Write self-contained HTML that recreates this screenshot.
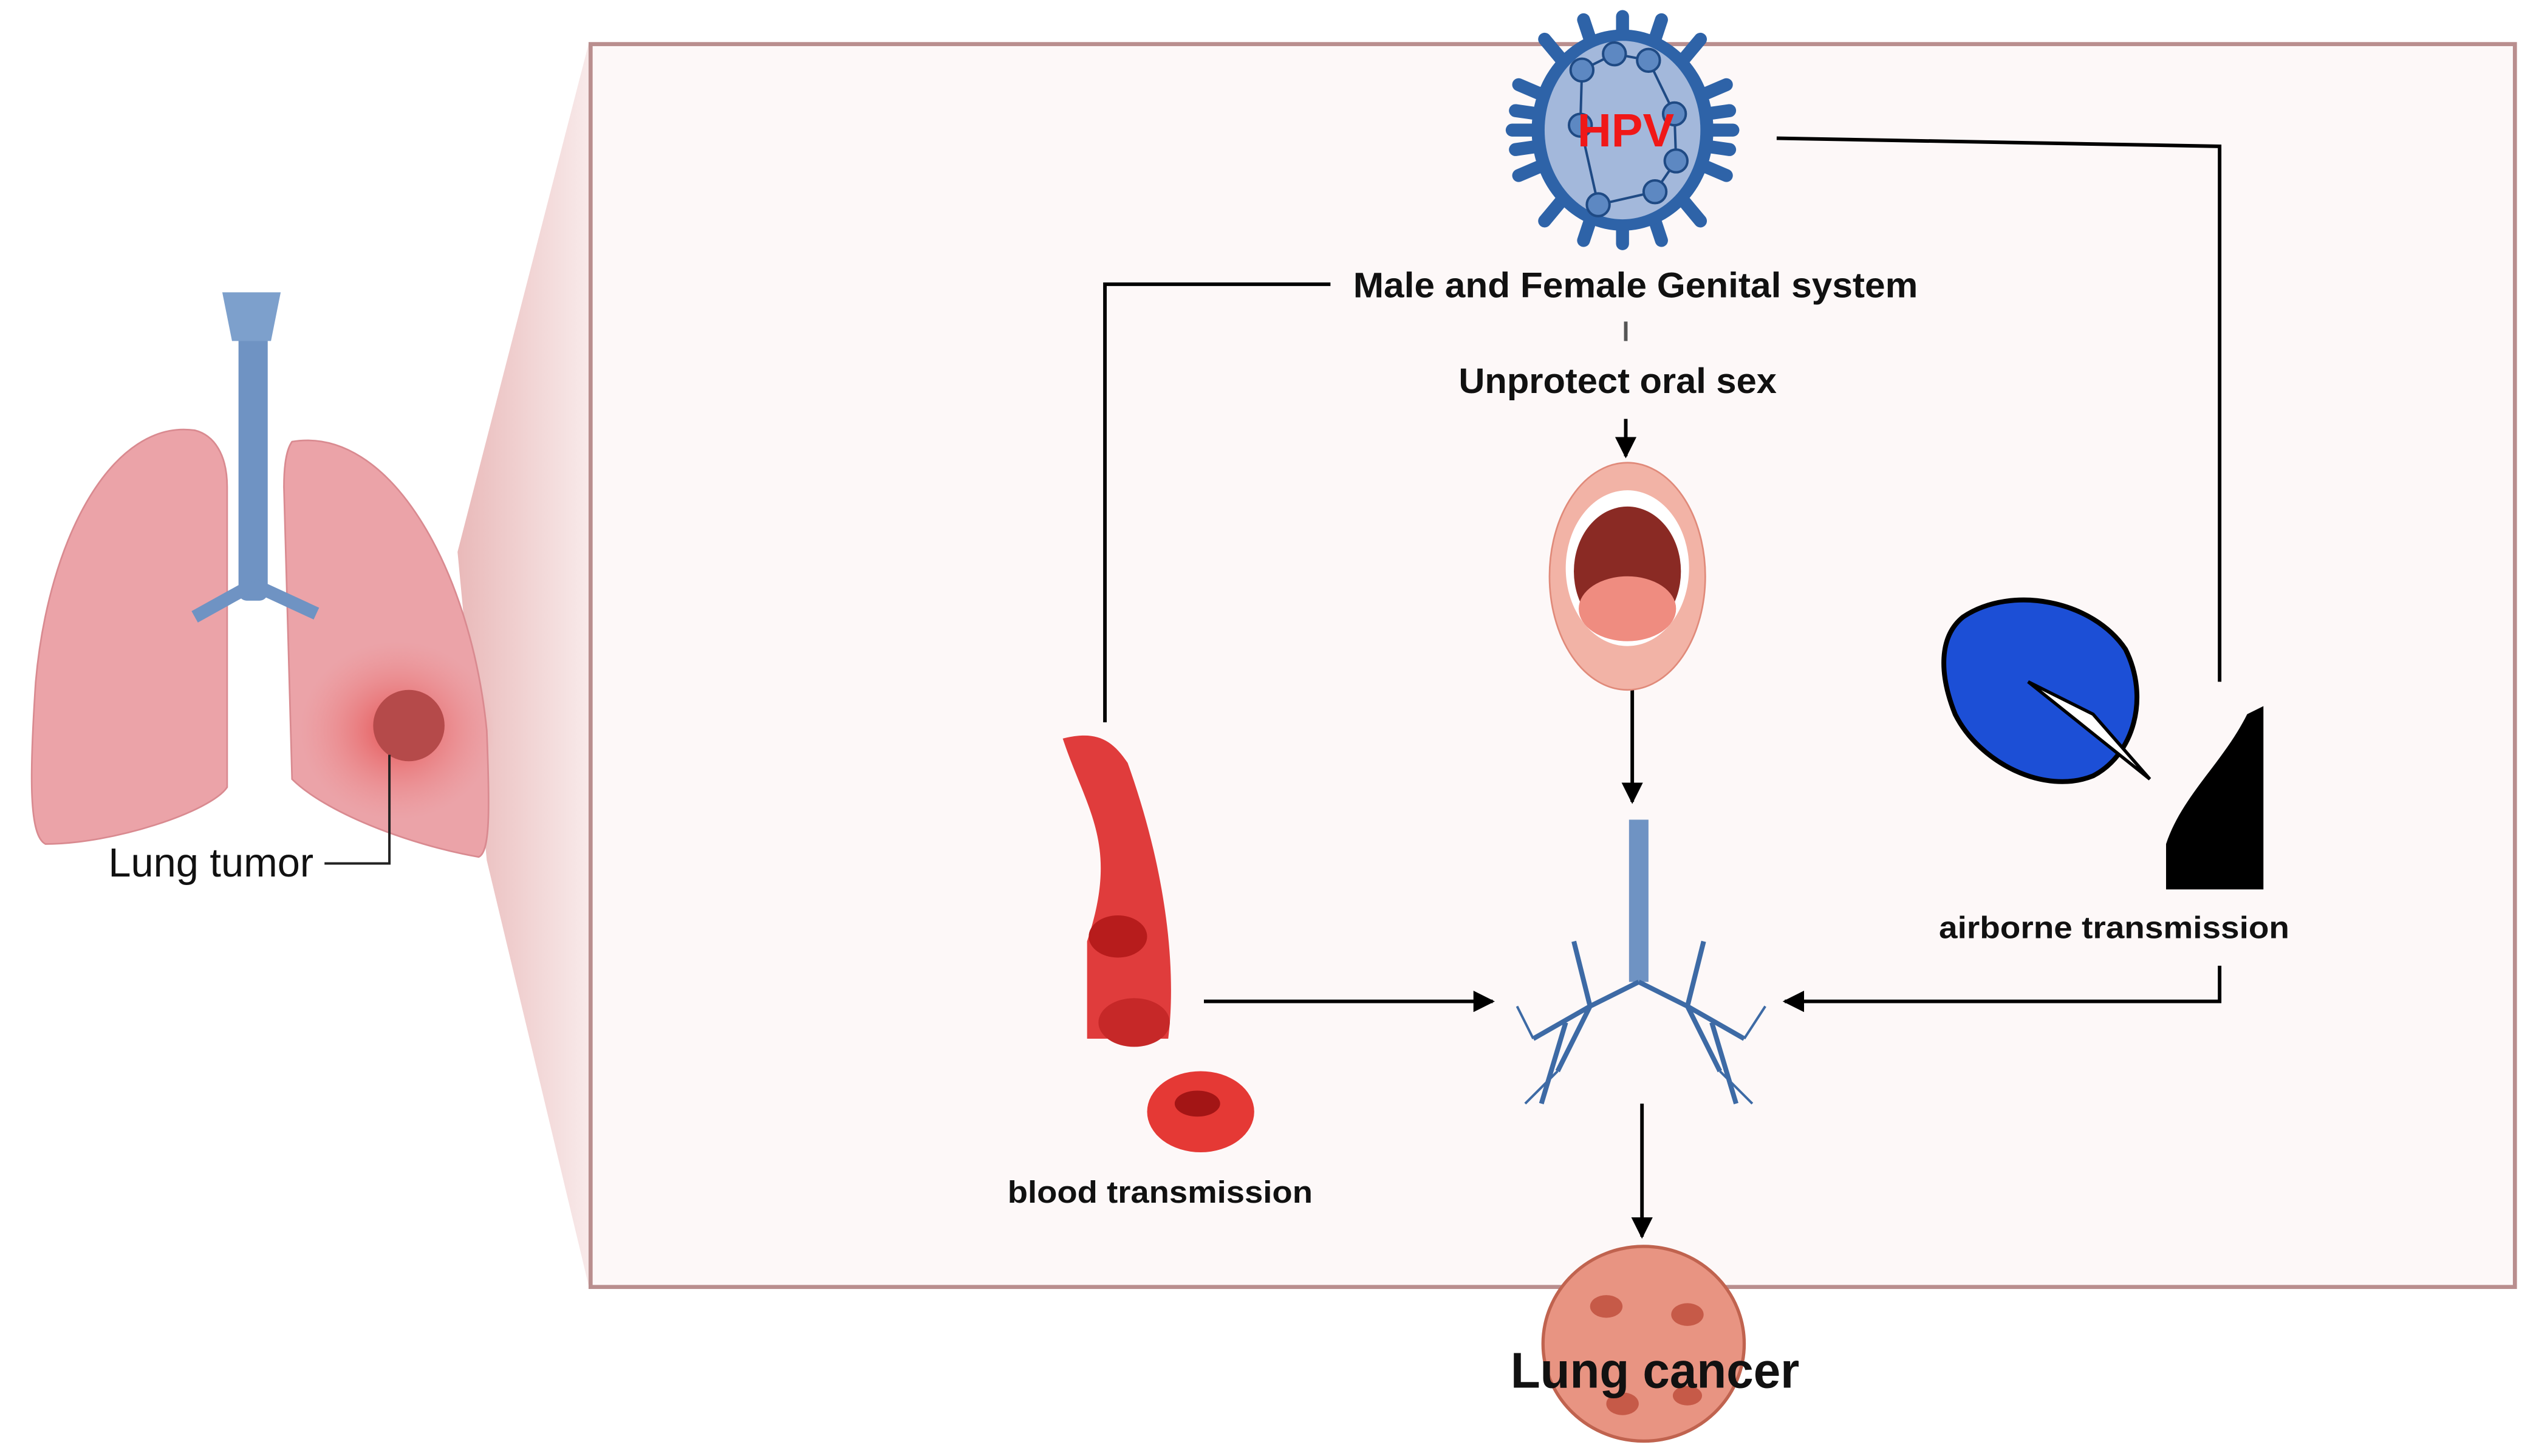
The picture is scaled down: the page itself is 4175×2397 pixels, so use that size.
<!DOCTYPE html>
<html><head><meta charset="utf-8"><style>html,body{margin:0;padding:0;background:#fff}svg{display:block}</style></head>
<body>
<svg width="4175" height="2397" viewBox="0 0 1563 897" xmlns="http://www.w3.org/2000/svg" font-family="Liberation Sans, sans-serif">
<defs>
<linearGradient id="fun" x1="0" x2="1" y1="0" y2="0"><stop offset="0" stop-color="#e9b9b9"/><stop offset="1" stop-color="#f8eaea"/></linearGradient>
<radialGradient id="tum" cx="0.5" cy="0.5" r="0.5"><stop offset="0" stop-color="#e23b3b" stop-opacity="0.8"/><stop offset="1" stop-color="#f08080" stop-opacity="0"/></radialGradient>
<marker id="ar" viewBox="0 0 10 10" refX="9" refY="5" markerWidth="6" markerHeight="6" orient="auto"><path d="M0,0L10,5L0,10z" fill="#000"/></marker>
</defs>
<polygon points="282,340 363,26 363,793 300,530" fill="url(#fun)"/>
<rect x="364" y="27" width="1186" height="766" fill="#fdf8f8" stroke="#b98e8e" stroke-width="2.5"/>
<!-- left lungs -->
<path d="M120,265 C70,258 30,330 22,420 C18,480 18,515 28,520 C70,520 130,500 140,485 L140,300 C140,280 132,268 120,265Z" fill="#eba3a8" stroke="#d98a90"/>
<path d="M180,272 C240,262 290,350 300,450 C302,500 302,525 295,528 C250,520 200,500 180,480 L175,300 C175,285 177,276 180,272Z" fill="#eba3a8" stroke="#d98a90"/>
<ellipse cx="245" cy="450" rx="60" ry="55" fill="url(#tum)"/>
<rect x="147" y="195" width="18" height="175" rx="5" fill="#6f93c3"/>
<path d="M137,180 L173,180 L167,210 L143,210Z" fill="#7da0cc"/>
<path d="M156,360 L120,380 M156,360 L195,378" stroke="#6f93c3" stroke-width="8" fill="none"/>
<circle cx="252" cy="447" r="22" fill="#b54a4a"/>
<path d="M240,465 L240,532 L200,532" stroke="#222" stroke-width="1.5" fill="none"/>
<text x="130" y="540" font-size="25" text-anchor="middle" fill="#111">Lung tumor</text>
<!-- HPV virus -->
<g transform="translate(1000,80)">
<g stroke="#2e63a8" stroke-width="8" stroke-linecap="round">
<line x1="0" y1="-58" x2="0" y2="-70"/><line x1="0" y1="58" x2="0" y2="70"/>
<line x1="-54" y1="0" x2="-68" y2="0"/><line x1="54" y1="0" x2="68" y2="0"/>
<line x1="-38" y1="-44" x2="-48" y2="-56"/><line x1="38" y1="-44" x2="48" y2="-56"/>
<line x1="-38" y1="44" x2="-48" y2="56"/><line x1="38" y1="44" x2="48" y2="56"/>
<line x1="-20" y1="-56" x2="-24" y2="-68"/><line x1="20" y1="-56" x2="24" y2="-68"/>
<line x1="-20" y1="56" x2="-24" y2="68"/><line x1="20" y1="56" x2="24" y2="68"/>
<line x1="-50" y1="-22" x2="-64" y2="-28"/><line x1="50" y1="-22" x2="64" y2="-28"/>
<line x1="-50" y1="22" x2="-64" y2="28"/><line x1="50" y1="22" x2="64" y2="28"/>
<line x1="-52" y1="-10" x2="-66" y2="-12"/><line x1="52" y1="10" x2="66" y2="12"/>
<line x1="-52" y1="10" x2="-66" y2="12"/><line x1="52" y1="-10" x2="66" y2="-12"/>
</g>
<ellipse rx="56" ry="62" fill="#2e63a8"/>
<ellipse rx="48" ry="55" fill="#a3b8db"/>
<polygon points="-25,-37 -5,-47 16,-43 32,-10 33,19 20,38 -15,46 -26,-3" fill="none" stroke="#1f4a84" stroke-width="1.5"/>
<g fill="#5d88c2" stroke="#1f4a84" stroke-width="1.5"><circle cx="-25" cy="-37" r="7"/><circle cx="-5" cy="-47" r="7"/><circle cx="16" cy="-43" r="7"/><circle cx="32" cy="-10" r="7"/><circle cx="33" cy="19" r="7"/><circle cx="20" cy="38" r="7"/><circle cx="-15" cy="46" r="7"/><circle cx="-26" cy="-3" r="7"/></g>
<text x="2" y="10" font-size="29" font-weight="bold" fill="#f01818" text-anchor="middle">HPV</text>
</g>
<!-- connectors -->
<g stroke="#000" stroke-width="2.2" fill="none">
<polyline points="1095,85 1368,90 1368,420"/>
<polyline points="820,175 681,175 681,445"/>
<line x1="1002" y1="198" x2="1002" y2="210" stroke="#555"/>
<line x1="1002" y1="258" x2="1002" y2="281" marker-end="url(#ar)"/>
<line x1="1006" y1="425" x2="1006" y2="494" marker-end="url(#ar)"/>
<line x1="742" y1="617" x2="920" y2="617" marker-end="url(#ar)"/>
<polyline points="1368,595 1368,617 1100,617" marker-end="url(#ar)"/>
<line x1="1012" y1="680" x2="1012" y2="762" marker-end="url(#ar)"/>
</g>
<text x="1008" y="183" font-size="22" font-weight="bold" text-anchor="middle" fill="#111" textLength="348" lengthAdjust="spacingAndGlyphs">Male and Female Genital system</text>
<text x="997" y="242" font-size="22" font-weight="bold" text-anchor="middle" fill="#111" textLength="196" lengthAdjust="spacingAndGlyphs">Unprotect oral sex</text>
<!-- mouth -->
<ellipse cx="1003" cy="355" rx="48" ry="70" fill="#f2b3a6" stroke="#e08a7a"/>
<ellipse cx="1003" cy="350" rx="38" ry="48" fill="#fff"/>
<ellipse cx="1003" cy="352" rx="33" ry="40" fill="#8a2a24"/>
<ellipse cx="1003" cy="375" rx="30" ry="20" fill="#ef8c80"/>
<!-- bronchial tree -->
<g stroke="#3d6aa5" stroke-width="3" fill="none">
<rect x="1004" y="505" width="12" height="100" fill="#6f93c3" stroke="none"/>
<path d="M1010,605 L980,620 L960,660 M980,620 L945,640 M965,630 L950,680 M1010,605 L1040,620 L1060,660 M1040,620 L1075,640 M1055,630 L1070,680 M980,620 L970,580 M1040,620 L1050,580"/>
<path d="M960,660 L940,680 M945,640 L935,620 M1060,660 L1080,680 M1075,640 L1088,620" stroke-width="1.5"/>
</g>
<!-- blood vessel -->
<path d="M655,455 C670,500 690,520 670,580 L670,640 L720,640 C725,600 720,540 695,470 C685,455 675,450 655,455Z" fill="#e03c3c"/>
<ellipse cx="689" cy="577" rx="18" ry="13" fill="#b71c1c"/>
<ellipse cx="699" cy="630" rx="22" ry="15" fill="#c62828"/>
<ellipse cx="740" cy="685" rx="33" ry="25" fill="#e53935"/>
<ellipse cx="738" cy="680" rx="14" ry="8" fill="#a31515"/>
<text x="715" y="741" font-size="19" font-weight="bold" text-anchor="middle" fill="#111" textLength="188" lengthAdjust="spacingAndGlyphs">blood transmission</text>
<!-- airborne -->
<path d="M1210,380 C1240,360 1290,370 1310,400 C1325,430 1315,465 1290,478 C1260,490 1220,470 1205,440 C1195,415 1195,392 1210,380Z" fill="#1c4fd6" stroke="#000" stroke-width="3"/>
<path d="M1250,420 L1325,480 L1290,440Z" fill="#fff" stroke="#000" stroke-width="2"/>
<path d="M1395,435 L1385,440 C1370,470 1345,490 1335,520 L1335,548 L1395,548Z" fill="#000"/>
<text x="1303" y="578" font-size="19" font-weight="bold" text-anchor="middle" fill="#111" textLength="216" lengthAdjust="spacingAndGlyphs">airborne transmission</text>
<!-- lung cancer -->
<ellipse cx="1013" cy="828" rx="62" ry="60" fill="#e89482" stroke="#c0634f" stroke-width="2"/>
<g fill="#c65a48"><ellipse cx="990" cy="805" rx="10" ry="7"/><ellipse cx="1040" cy="810" rx="10" ry="7"/><ellipse cx="1000" cy="865" rx="10" ry="7"/><ellipse cx="1040" cy="860" rx="9" ry="6"/></g>
<text x="1020" y="855" font-size="31" font-weight="bold" text-anchor="middle" fill="#111" textLength="178" lengthAdjust="spacingAndGlyphs">Lung cancer</text>
</svg>
</body></html>
